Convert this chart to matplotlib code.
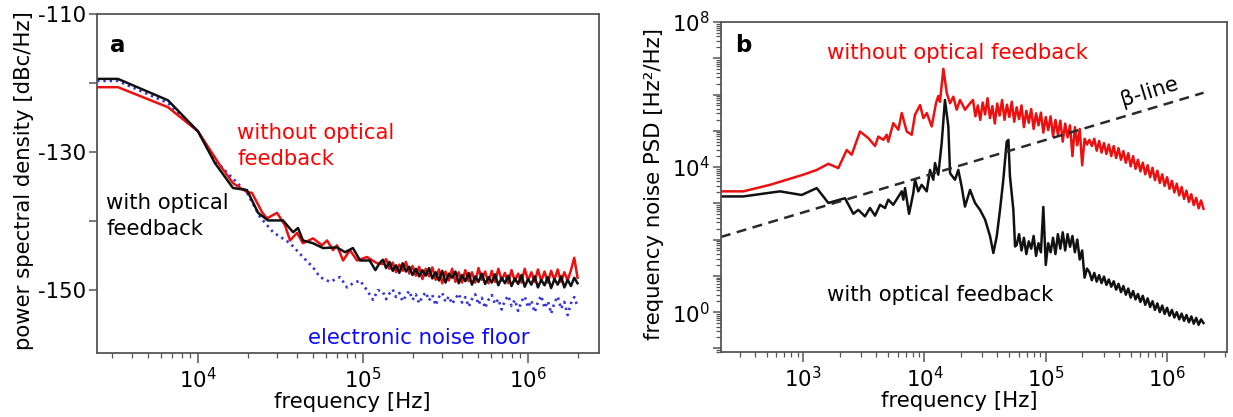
import numpy as np
import matplotlib
matplotlib.use("Agg")
import matplotlib.pyplot as plt
from matplotlib.ticker import FixedLocator, FuncFormatter, LogLocator, NullFormatter

plt.rcParams["font.family"] = ["DejaVu Sans"]
plt.rcParams["mathtext.fontset"] = "dejavusans"
plt.rcParams["axes.unicode_minus"] = False

FS = 15.3

# ---------------- panel a: phase-noise PSD (dBc/Hz) ----------------
# low-frequency parts (log10 of frequency in Hz)
a_black_logf_lo = [3.388, 3.515, 3.818, 4.0, 4.103, 4.212, 4.297, 4.364, 4.424, 4.515, 4.576,
                   4.606, 4.636, 4.697, 4.758, 4.842, 4.891, 4.939, 4.982, 5.04, 5.075, 5.10]
a_black_lo = [-119.4, -119.4, -122.5, -127.0, -131.6, -135.2, -135.5, -138.8, -139.9, -139.9, -141.6,
              -141.0, -142.8, -143.2, -143.9, -143.8, -144.5, -143.9, -145.7, -145.7, -147.1, -146.1]

a_red_logf_lo = [3.388, 3.515, 3.818, 4.0, 4.133, 4.212, 4.297, 4.327, 4.388, 4.418, 4.479, 4.527, 4.558,
                 4.6, 4.636, 4.697, 4.752, 4.782, 4.818, 4.842, 4.879, 4.921, 4.964, 5.024, 5.085]
a_red_lo = [-120.6, -120.6, -123.5, -127.0, -131.9, -134.5, -135.8, -135.9, -138.7, -139.6, -138.8, -140.6, -142.8,
            -141.7, -143.2, -142.5, -143.5, -142.8, -144.2, -143.5, -145.7, -144.2, -145.7, -145.2, -146.1]

a_blue_logf_lo = [3.388, 3.515, 3.818, 4.0, 4.103, 4.297, 4.376, 4.455, 4.558, 4.636,
                  4.697, 4.739, 4.8, 4.861, 4.903, 4.939, 4.982, 5.024, 5.061, 5.09]
a_blue_lo = [-119.7, -119.7, -122.9, -127.0, -131.2, -135.9, -139.4, -141.6, -143.2, -145.2,
             -146.7, -148.1, -148.8, -148.1, -149.6, -149.0, -148.6, -150.0, -151.4, -150.0]

# high-frequency parts, shared frequency points
a_logf_hi = [5.12, 5.14, 5.16, 5.18, 5.20, 5.22, 5.24, 5.26, 5.28, 5.30,
             5.32, 5.34, 5.36, 5.38, 5.40, 5.42, 5.44, 5.46, 5.48, 5.50,
             5.52, 5.54, 5.56, 5.58, 5.60, 5.62, 5.64, 5.66, 5.68, 5.70,
             5.72, 5.74, 5.76, 5.78, 5.80, 5.82, 5.84, 5.86, 5.88, 5.90,
             5.92, 5.94, 5.96, 5.98, 6.00, 6.02, 6.04, 6.06, 6.08, 6.10,
             6.12, 6.14, 6.16, 6.18, 6.20, 6.22, 6.24, 6.26, 6.28, 6.30]
a_black_hi = [-145.6, -146.8, -145.9, -147.2, -146.4, -147.5, -146.1, -147.3, -146.6, -147.8,
              -146.9, -148.0, -147.1, -147.9, -146.8, -148.3, -147.4, -148.6, -147.2, -148.9,
              -147.6, -148.2, -147.3, -149.0, -147.8, -148.7, -147.5, -149.2, -148.0, -148.8,
              -147.6, -149.1, -148.1, -148.9, -147.7, -149.3, -148.2, -149.0, -147.9, -149.4,
              -148.3, -149.1, -147.8, -149.5, -148.4, -149.2, -148.0, -149.6, -148.5, -149.3,
              -148.1, -149.7, -148.4, -149.2, -148.0, -149.6, -148.5, -149.4, -148.2, -149.0]
a_red_hi = [-146.2, -145.5, -146.9, -146.0, -147.4, -146.3, -147.2, -145.9, -147.6, -146.5,
            -147.9, -146.6, -148.4, -146.9, -148.0, -146.7, -148.5, -147.0, -149.0, -147.3,
            -148.6, -146.9, -148.8, -147.4, -148.9, -147.1, -148.7, -147.4, -148.9, -146.8,
            -148.5, -147.3, -149.0, -147.2, -148.8, -146.9, -148.6, -147.5, -149.0, -147.1,
            -148.7, -147.6, -148.9, -146.9, -148.6, -147.4, -148.8, -147.0, -148.7, -147.3,
            -148.9, -147.2, -148.5, -147.0, -148.8, -147.4, -148.6, -147.1, -145.3, -148.2]
a_blue_hi = [-150.2, -151.3, -150.5, -149.9, -151.0, -150.4, -151.6, -150.8, -150.1, -151.4,
             -150.6, -151.9, -150.9, -150.3, -151.5, -150.7, -152.2, -151.0, -150.4, -151.7,
             -150.9, -152.0, -151.2, -150.5, -151.8, -151.0, -152.4, -151.3, -150.6, -152.1,
             -151.1, -152.6, -151.4, -150.7, -152.0, -151.3, -152.8, -151.5, -150.8, -152.3,
             -151.4, -153.0, -151.6, -150.9, -152.5, -151.5, -153.2, -151.7, -150.8, -152.6,
             -151.6, -153.4, -151.8, -150.9, -152.7, -151.7, -153.6, -151.9, -151.0, -152.4]

# ---------------- panel b: frequency-noise PSD (log10 of Hz^2/Hz) ----------------
b_red_logf = [2.323, 2.507, 2.727, 2.865, 3.002, 3.112, 3.208, 3.29, 3.359, 3.40,
              3.469, 3.537, 3.593, 3.62, 3.661, 3.689, 3.702, 3.743, 3.785, 3.813,
              3.854, 3.895, 3.922, 3.964, 3.991, 4.019, 4.06, 4.095, 4.114, 4.128,
              4.156, 4.184, 4.211, 4.238, 4.266, 4.293, 4.335, 4.376,
              4.40, 4.42, 4.44, 4.46, 4.48, 4.50, 4.52, 4.54, 4.56, 4.58,
              4.60, 4.62, 4.64, 4.66, 4.68, 4.70, 4.72, 4.74, 4.76, 4.78,
              4.80, 4.82, 4.84, 4.86, 4.88, 4.90, 4.92, 4.94, 4.96, 4.98,
              5.00, 5.02, 5.04, 5.06, 5.08, 5.10, 5.12, 5.14, 5.16, 5.18,
              5.20, 5.22, 5.24, 5.26, 5.28, 5.30, 5.32, 5.34, 5.36, 5.38,
              5.40, 5.42, 5.44, 5.46, 5.48, 5.50, 5.52, 5.54, 5.56, 5.58,
              5.60, 5.62, 5.64, 5.66, 5.68, 5.70, 5.72, 5.74, 5.76, 5.78,
              5.80, 5.82, 5.84, 5.86, 5.88, 5.90, 5.92, 5.94, 5.96, 5.98,
              6.00, 6.02, 6.04, 6.06, 6.08, 6.10, 6.12, 6.14, 6.16, 6.18,
              6.20, 6.22, 6.24, 6.26, 6.28, 6.30]
b_red_logpsd = [3.33, 3.33, 3.51, 3.65, 3.79, 3.92, 4.09, 3.97, 4.47, 4.34,
                4.98, 4.80, 4.58, 4.84, 4.75, 4.89, 4.70, 5.21, 5.03, 5.49,
                4.98, 4.89, 5.44, 5.71, 5.35, 5.49, 5.12, 5.76, 5.96, 5.80,
                6.71, 6.04, 5.76, 5.94, 5.58, 5.85, 5.58, 5.76,
                5.85, 5.40, 5.70, 5.30, 5.78, 5.45, 5.90, 5.35, 5.68, 5.20,
                5.75, 5.42, 5.85, 5.30, 5.72, 5.38, 5.80, 5.25, 5.65, 5.32,
                5.70, 5.10, 5.55, 5.22, 5.60, 5.05, 5.48, 5.15, 5.50, 4.95,
                5.38, 5.02, 5.40, 4.85, 5.30, 4.90, 5.28, 4.70, 5.20, 4.82,
                5.15, 4.30, 5.10, 4.60, 5.05, 4.05, 4.78, 4.62, 4.75, 4.58,
                4.78, 4.45, 4.72, 4.40, 4.66, 4.36, 4.62, 4.30, 4.58, 4.25,
                4.52, 4.20, 4.44, 4.12, 4.38, 4.02, 4.30, 3.95, 4.20, 3.88,
                4.12, 3.80, 4.05, 3.72, 3.98, 3.64, 3.90, 3.56, 3.80, 3.48,
                3.72, 3.40, 3.62, 3.30, 3.54, 3.22, 3.45, 3.12, 3.35, 3.04,
                3.25, 2.95, 3.15, 2.86, 3.08, 2.85]

b_black_logf = [2.323, 2.507, 2.809, 2.988, 3.112, 3.208, 3.249, 3.345, 3.414, 3.455,
                3.51, 3.551, 3.593, 3.634, 3.675, 3.702, 3.743, 3.813, 3.826, 3.84,
                3.873, 3.908, 3.922, 3.949, 3.977, 4.019, 4.046, 4.073, 4.087, 4.114,
                4.142, 4.169, 4.197, 4.211, 4.252, 4.279, 4.307, 4.334,
                4.376, 4.417, 4.458, 4.5, 4.541, 4.568, 4.596, 4.623, 4.65, 4.678,
                4.692, 4.705, 4.733, 4.747,
                4.76, 4.78, 4.80, 4.82, 4.84, 4.86, 4.88, 4.90, 4.92, 4.94,
                4.96, 4.98, 5.00, 5.02, 5.04, 5.06, 5.08, 5.10, 5.12, 5.14,
                5.16, 5.18, 5.20, 5.22, 5.24, 5.26, 5.28, 5.30, 5.32, 5.34,
                5.36, 5.38, 5.40, 5.42, 5.44, 5.46, 5.48, 5.50, 5.52, 5.54,
                5.56, 5.58, 5.60, 5.62, 5.64, 5.66, 5.68, 5.70, 5.72, 5.74,
                5.76, 5.78, 5.80, 5.82, 5.84, 5.86, 5.88, 5.90, 5.92, 5.94,
                5.96, 5.98, 6.00, 6.02, 6.04, 6.06, 6.08, 6.10, 6.12, 6.14,
                6.16, 6.18, 6.20, 6.22, 6.24, 6.26, 6.28, 6.30]
b_black_logpsd = [3.19, 3.19, 3.33, 3.23, 3.42, 3.01, 3.05, 3.14, 2.71, 2.82,
                  2.64, 2.87, 2.66, 2.96, 2.87, 3.10, 2.96, 3.33, 3.10, 3.42,
                  2.71, 3.28, 3.65, 3.33, 3.51, 3.33, 3.92, 3.65, 4.11, 3.79,
                  4.66, 5.85, 5.12, 3.83, 3.65, 3.92, 3.46, 2.91,
                  3.37, 3.01, 2.82, 2.55, 2.09, 1.63, 2.09, 2.82, 3.65, 4.70,
                  4.75, 3.74, 2.82, 1.81,
                  1.85, 2.15, 1.70, 2.05, 1.60, 1.95, 1.75, 2.10, 1.55, 1.90,
                  1.65, 2.90, 1.30, 1.90, 1.65, 2.05, 1.60, 2.15, 1.75, 2.20,
                  1.70, 2.15, 1.80, 2.10, 1.65, 2.00, 1.45, 1.70, 0.95, 1.20,
                  1.10, 0.88, 1.08, 0.84, 1.02, 0.80, 0.98, 0.75, 0.90, 0.70,
                  0.85, 0.62, 0.78, 0.55, 0.72, 0.48, 0.65, 0.40, 0.58, 0.35,
                  0.50, 0.28, 0.45, 0.20, 0.38, 0.14, 0.30, 0.06, 0.24, 0.00,
                  0.18, -0.05, 0.12, -0.10, 0.06, -0.15, 0.00, -0.20, -0.04, -0.24,
                  -0.08, -0.28, -0.12, -0.32, -0.16, -0.35, -0.20, -0.30]

# beta-separation line end points (Hz, Hz^2/Hz)
beta_freq = [2.1e2, 2.0e6]
beta_psd = [1.18e2, 1.12e6]

RED = "#ec1010"
BLACK = "#111111"
BLUE = "#3535d6"
SPINE = "#555555"


def style_axes(ax):
    for s in ax.spines.values():
        s.set_color(SPINE)
        s.set_linewidth(1.3)
    ax.tick_params(which="major", direction="out", length=6, width=1.1, color=SPINE,
                   labelsize=FS, pad=2)
    ax.tick_params(which="minor", direction="out", length=3.5, width=0.9, color=SPINE)


fig = plt.figure(figsize=(12.33, 4.17), dpi=100)
ax_a = fig.add_axes([97 / 1233, 1 - 353 / 417, 502 / 1233, 339 / 417])
ax_b = fig.add_axes([721 / 1233, 1 - 352 / 417, 506 / 1233, 330 / 417])

# ---- panel a ----
f_blue = 10 ** np.concatenate([a_blue_logf_lo, a_logf_hi])
f_red = 10 ** np.concatenate([a_red_logf_lo, a_logf_hi])
f_black = 10 ** np.concatenate([a_black_logf_lo, a_logf_hi])
ax_a.plot(f_blue, np.concatenate([a_blue_lo, a_blue_hi]), color=BLUE, lw=1.9,
          linestyle=(0, (0.9, 1.5)))
ax_a.plot(f_red, np.concatenate([a_red_lo, a_red_hi]), color=RED, lw=1.8)
ax_a.plot(f_black, np.concatenate([a_black_lo, a_black_hi]), color=BLACK, lw=1.8)

ax_a.set_xscale("log")
ax_a.set_xlim(10 ** 3.388, 10 ** 6.430)
ax_a.set_ylim(-159.1, -110)
ax_a.yaxis.set_major_locator(FixedLocator([-150, -140, -130, -120, -110]))
ax_a.yaxis.set_major_formatter(FuncFormatter(
    lambda v, p: f"{int(round(v))}" if int(round(v)) % 20 == 10 else ""))
ax_a.xaxis.set_major_locator(LogLocator(base=10, numticks=20))
ax_a.xaxis.set_minor_locator(LogLocator(base=10, subs=np.arange(2, 10), numticks=40))
ax_a.xaxis.set_minor_formatter(NullFormatter())
style_axes(ax_a)
ax_a.tick_params(axis="x", which="major", length=7, pad=3)
ax_a.set_xlabel("frequency [Hz]", fontsize=FS)
ax_a.set_ylabel("power spectral density [dBc/Hz]", fontsize=FS)
ax_a.xaxis.set_label_coords(0.509, -0.115)
ax_a.yaxis.set_label_coords(-0.126, 0.51)

ax_a.text(0.026, 0.906, "a", transform=ax_a.transAxes, fontsize=16.5, fontweight="bold",
          va="center", ha="left")
ax_a.text(0.279, 0.678, "without optical\nfeedback", transform=ax_a.transAxes, fontsize=FS,
          color="#ff0000", va="top", ha="left", linespacing=1.35)
ax_a.text(0.018, 0.472, "with optical\nfeedback", transform=ax_a.transAxes, fontsize=FS,
          color="black", va="top", ha="left", linespacing=1.35)
ax_a.text(0.42, 0.074, "electronic noise floor", transform=ax_a.transAxes, fontsize=FS,
          color="#0a0aff", va="top", ha="left")

# ---- panel b ----
ax_b.plot(10 ** np.array(b_red_logf), 10 ** np.array(b_red_logpsd), color=RED, lw=1.8)
ax_b.plot(10 ** np.array(b_black_logf), 10 ** np.array(b_black_logpsd), color=BLACK, lw=1.8)
ax_b.plot(beta_freq, beta_psd, color="#2a2a2a", lw=1.8, linestyle=(0, (4, 2.6)))

ax_b.set_xscale("log")
ax_b.set_yscale("log")
ax_b.set_xlim(10 ** 2.323, 10 ** 6.494)
ax_b.set_ylim(10 ** -1.10, 1e8)
ax_b.xaxis.set_major_locator(LogLocator(base=10, numticks=20))
ax_b.xaxis.set_minor_locator(LogLocator(base=10, subs=np.arange(2, 10), numticks=40))
ax_b.xaxis.set_minor_formatter(NullFormatter())
ax_b.yaxis.set_major_locator(LogLocator(base=10, numticks=20))
ax_b.yaxis.set_minor_locator(LogLocator(base=10, subs=np.arange(2, 10), numticks=40))
ax_b.yaxis.set_minor_formatter(NullFormatter())


def b_ylabels(v, pos):
    e = int(round(np.log10(v)))
    return r"$\mathdefault{10^{%d}}$" % e if e % 4 == 0 else ""


ax_b.yaxis.set_major_formatter(FuncFormatter(b_ylabels))
style_axes(ax_b)
ax_b.tick_params(axis="x", which="major", length=7, pad=3)
ax_b.set_xlabel("frequency [Hz]", fontsize=FS)
ax_b.set_ylabel("frequency noise PSD [Hz²/Hz]", fontsize=FS)
ax_b.xaxis.set_label_coords(0.47, -0.118)
ax_b.yaxis.set_label_coords(-0.113, 0.509)

ax_b.text(0.028, 0.930, "b", transform=ax_b.transAxes, fontsize=16.5, fontweight="bold",
          va="center", ha="left")
ax_b.text(0.209, 0.936, "without optical feedback", transform=ax_b.transAxes, fontsize=FS,
          color="#ff0000", va="top", ha="left")
ax_b.text(0.209, 0.203, "with optical feedback", transform=ax_b.transAxes, fontsize=FS,
          color="black", va="top", ha="left")
ax_b.text(0.846, 0.788, "β-line", transform=ax_b.transAxes, fontsize=FS, color="black",
          va="center", ha="center", rotation=17, rotation_mode="anchor")

fig.savefig("out.png", dpi=100)
